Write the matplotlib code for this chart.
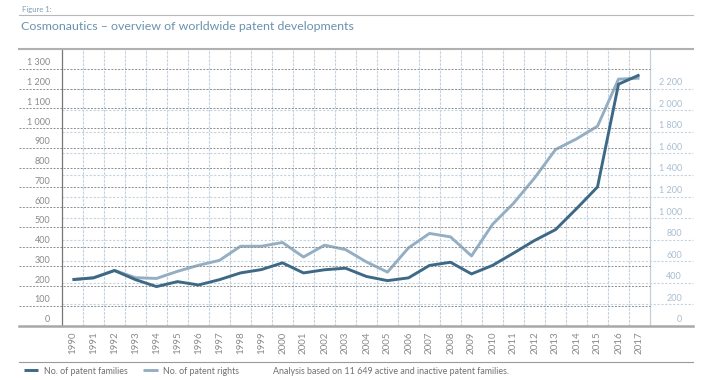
import numpy as np
import matplotlib
matplotlib.use("Agg")
import matplotlib.pyplot as plt
from matplotlib.lines import Line2D
from matplotlib.ticker import FuncFormatter
from matplotlib.transforms import ScaledTranslation

plt.rcParams['font.family'] = ['Lato', 'DejaVu Sans']

years = list(range(1990, 2018))
families = [233, 242, 279, 233, 198, 223, 206, 233, 267, 284, 318, 267, 283, 291,
            249, 228, 242, 305, 321, 262, 305, 367, 431, 486, 592, 702, 1222, 1269]
rights = [429, 445, 514, 446, 439, 505, 561, 607, 738, 738, 773, 638, 748, 707,
          592, 498, 723, 857, 825, 648, 941, 1137, 1371, 1636, 1735, 1853, 2290, 2299]

left_ticks = list(range(0, 1400, 100))
right_ticks = list(range(0, 2400, 200))

dark = '#3e6986'
light = '#94afc3'
W, H = 720, 380


def fx(px):
    return px / W


def fy(py):
    return 1 - py / H


fig = plt.figure(figsize=(7.2, 3.8), dpi=100)
ax = fig.add_axes([fx(62), fy(325.7), fx(650) - fx(62), fy(49) - fy(325.7)])
ax2 = ax.twinx()
ax.set_zorder(ax2.get_zorder() + 1)
ax.patch.set_visible(False)

x = np.arange(len(years))
ax2.plot(x, rights, color=light, lw=2.1, solid_capstyle='butt', label='No. of patent rights')
ax.plot(x, families, color=dark, lw=2.1, solid_capstyle='butt', label='No. of patent families')

ax.set_xlim(-0.5, len(years) - 0.5)
ax.set_ylim(0, 1400)
ax2.set_ylim(0, 2570)

# gridlines (extend past the spines like the original)
ax2.hlines(right_ticks[1:], 0, 1.073, transform=ax2.get_yaxis_transform(),
           colors='#c3d3e0', lw=0.8, linestyles=(0, (2, 1.5)), clip_on=False, zorder=0)
ax.hlines(left_ticks[1:], -0.073, 1.0, transform=ax.get_yaxis_transform(),
          colors='#8e8e8e', lw=0.7, linestyles=(0, (2, 1.5)), clip_on=False, zorder=0)
ax2.vlines(np.arange(0.5, len(years) - 0.5), 0, 2570, colors='#c6d2dd', lw=0.8,
           linestyles=(0, (2.5, 1)), zorder=0)

fmt = FuncFormatter(lambda v, p: f"{int(v):,}".replace(',', ' '))

ax.set_yticks(left_ticks)
ax.yaxis.set_major_formatter(fmt)
ax.tick_params(axis='y', length=0, pad=8.5, labelsize=6.5, labelcolor='#8a8a8a')
ax2.set_yticks(right_ticks)
ax2.yaxis.set_major_formatter(fmt)
ax2.tick_params(axis='y', length=0, pad=23, labelsize=6.5, labelcolor='#a9bdd0')
for lab in ax2.get_yticklabels():
    lab.set_horizontalalignment('right')

shift = ScaledTranslation(0, 7 / 100, fig.dpi_scale_trans)
for lab in ax.get_yticklabels() + ax2.get_yticklabels():
    lab.set_transform(lab.get_transform() + shift)

ax.set_xticks(x)
ax.set_xticklabels([str(y) for y in years], rotation=90, va='top')
ax.tick_params(axis='x', length=0, pad=4, labelsize=7, labelcolor='#8a8a8a')

for a in (ax, ax2):
    a.spines['top'].set_visible(False)
    a.spines['bottom'].set_visible(False)
ax.spines['left'].set_color('#777777')
ax.spines['left'].set_linewidth(0.9)
ax.spines['right'].set_visible(False)
ax2.spines['left'].set_visible(False)
ax2.spines['right'].set_color('#c3d0dc')
ax2.spines['right'].set_linewidth(0.9)

# frame lines
fig.add_artist(Line2D([fx(19), fx(693)], [fy(15), fy(15)], color='#b8b8b8', lw=0.8))
fig.add_artist(Line2D([fx(19), fx(693)], [fy(49), fy(49)], color='#b0b0b0', lw=1.5))
fig.add_artist(Line2D([fx(19), fx(693)], [fy(325.7), fy(325.7)], color='#a8a8a8', lw=1.8))
fig.add_artist(Line2D([fx(19), fx(693)], [fy(362), fy(362)], color='#9a9a9a', lw=0.8))

fig.text(fx(22), fy(9.5), 'Figure 1:', fontsize=5.5, color='#7f9db3', va='center')
fig.text(fx(21), fy(27), 'Cosmonautics \u2013 overview of worldwide patent developments',
         fontsize=8.9, color='#6a92ad', va='center')

fig.legend(handles=[ax.lines[0], ax2.lines[0]], loc='center left',
           bbox_to_anchor=(fx(16), fy(371)), ncol=2, frameon=False, fontsize=6.4,
           handlelength=1.6, handletextpad=0.6, columnspacing=1.8, labelcolor='#707070')
fig.text(fx(273), fy(371), 'Analysis based on 11 649 active and inactive patent families.',
         fontsize=6.4, color='#707070', va='center')

fig.savefig('out.png', dpi=100)
